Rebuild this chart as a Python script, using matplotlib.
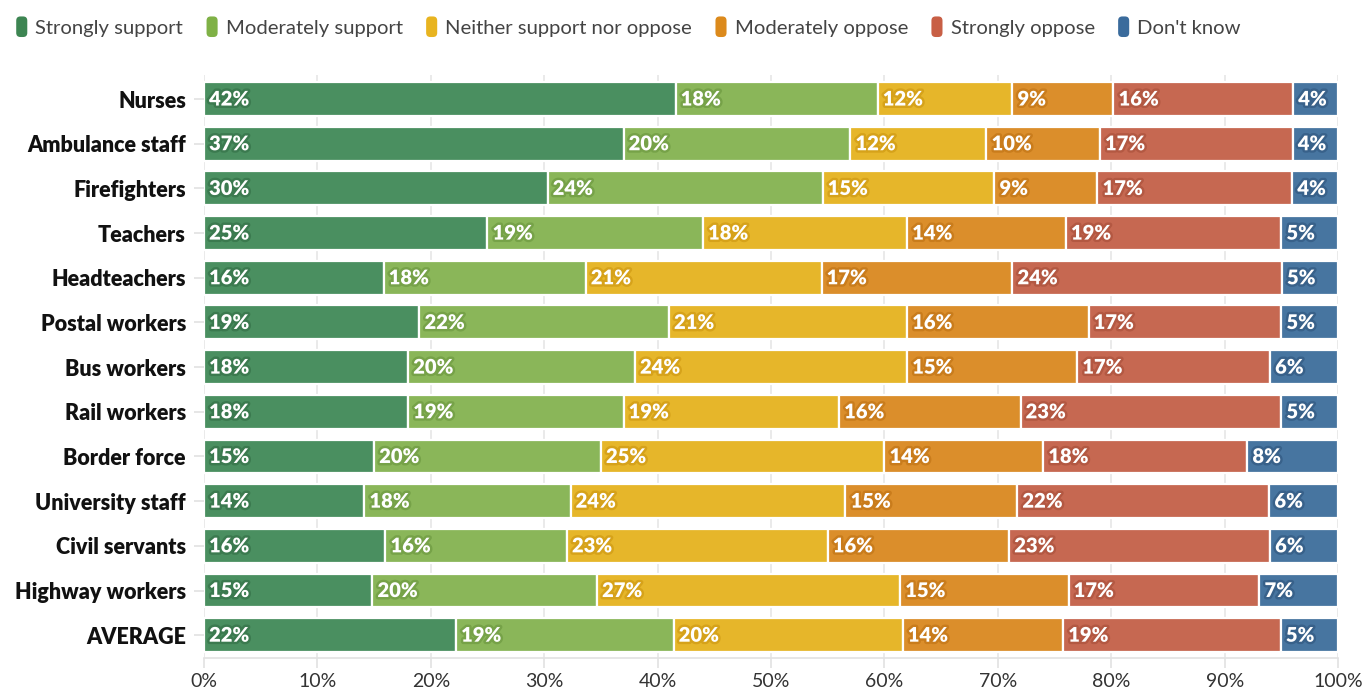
import matplotlib
matplotlib.use("Agg")
import matplotlib.pyplot as plt
import matplotlib.patheffects as pe
from matplotlib.patches import FancyBboxPatch
from matplotlib.legend_handler import HandlerPatch
from matplotlib.ticker import PercentFormatter
import numpy as np

plt.rcParams['font.family'] = ['Lato', 'DejaVu Sans']

groups = ["Nurses", "Ambulance staff", "Firefighters", "Teachers", "Headteachers",
          "Postal workers", "Bus workers", "Rail workers", "Border force",
          "University staff", "Civil servants", "Highway workers", "AVERAGE"]

responses = ["Strongly support", "Moderately support", "Neither support nor oppose",
             "Moderately oppose", "Strongly oppose", "Don't know"]

strongly_support   = [42, 37, 30, 25, 16, 19, 18, 18, 15, 14, 16, 15, 22]
moderately_support = [18, 20, 24, 19, 18, 22, 20, 19, 20, 18, 16, 20, 19]
neither            = [12, 12, 15, 18, 21, 21, 24, 19, 25, 24, 23, 27, 20]
moderately_oppose  = [9, 10, 9, 14, 17, 16, 15, 16, 14, 15, 16, 15, 14]
strongly_oppose    = [16, 17, 17, 19, 24, 17, 17, 23, 18, 22, 23, 17, 19]
dont_know          = [4, 4, 4, 5, 5, 5, 6, 5, 8, 6, 6, 7, 5]

colors = ["#4a8f60", "#8ab659", "#e6b62a", "#db8e2b", "#c66851", "#4775a0"]
halo = ["#3b7a4f", "#76a248", "#d6a21a", "#c97c1c", "#b35842", "#38618a"]
legend_colors = ["#3d8552", "#7fb146", "#e8b420", "#dc8a1c", "#c85f45", "#3a6b9c"]

series = [strongly_support, moderately_support, neither,
          moderately_oppose, strongly_oppose, dont_know]
values = np.array(series, dtype=float)
shares = values / values.sum(axis=0) * 100  # each row fills 0-100%

fig = plt.figure(figsize=(13.68, 6.9), dpi=100)
ax = fig.add_axes([0.1491, 0.0464, 0.829, 0.845])

y = np.arange(len(groups))
left = np.zeros(len(groups))
for k, name in enumerate(responses):
    bars = ax.barh(y, shares[k], left=left, height=0.76, color=colors[k],
                   edgecolor="white", linewidth=1.6, label=name, zorder=3)
    for i, b in enumerate(bars):
        ax.text(left[i] + 0.45, y[i], f"{int(values[k, i])}%", ha="left", va="center",
                color="white", fontsize=14.5, fontweight="heavy", zorder=4,
                path_effects=[pe.withStroke(linewidth=3.5, foreground=halo[k])])
    left += shares[k]

ax.set_xlim(0, 100)
ax.set_ylim(len(groups) - 0.49, -0.54)
ax.set_xticks(np.arange(0, 101, 10))
ax.xaxis.set_major_formatter(PercentFormatter(decimals=0))
ax.set_yticks(y)
ax.set_yticklabels(groups, fontweight="heavy", fontsize=15.5, color="#111111")
ax.tick_params(axis="x", length=7, width=1.2, color="#e2e2e2", labelsize=14,
               labelcolor="#333333", pad=4)
ax.tick_params(axis="y", length=7, width=1.2, color="#e2e2e2", pad=6)
ax.grid(axis="x", color="#e6e6e6", linewidth=1.2, zorder=0)
for side in ["top", "right", "left"]:
    ax.spines[side].set_visible(False)
ax.spines["bottom"].set_color("#e2e2e2")
ax.spines["bottom"].set_linewidth(1.2)


class RoundedHandler(HandlerPatch):
    def create_artists(self, legend, orig_handle, xdescent, ydescent,
                       width, height, fontsize, trans):
        w = 0.78 * height
        h = 1.45 * height
        p = FancyBboxPatch((-xdescent + (width - w) / 2, -ydescent - (h - height) / 2),
                           w, h, boxstyle="round,pad=0,rounding_size=3",
                           facecolor=orig_handle.get_facecolor(),
                           edgecolor="none", transform=trans)
        return [p]


handles = [FancyBboxPatch((0, 0), 1, 1, facecolor=c) for c in legend_colors]
leg = fig.legend(handles, responses, loc="upper left", bbox_to_anchor=(-0.003, 0.998),
                 ncol=6, frameon=False, fontsize=14.6, handlelength=0.75,
                 handletextpad=0.3, columnspacing=1.05,
                 handler_map={FancyBboxPatch: RoundedHandler()})
for t in leg.get_texts():
    t.set_color("#444444")

fig.savefig("out.png", dpi=100)
